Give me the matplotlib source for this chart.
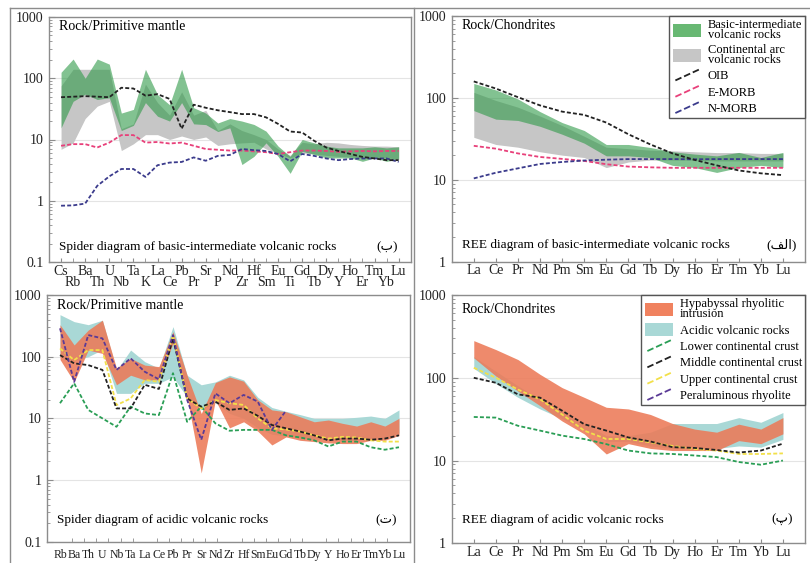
import numpy as np
import matplotlib
matplotlib.use('Agg')
import matplotlib.pyplot as plt
from matplotlib.lines import Line2D
from matplotlib.patches import Patch
from matplotlib.legend_handler import HandlerBase
from matplotlib.ticker import LogLocator, NullFormatter, FixedLocator

plt.rcParams['font.family'] = ['Liberation Serif', 'DejaVu Sans']

W, H = 810, 563

# ---- data: basic-intermediate, primitive mantle normalised
PM_ELEM = ['Cs', 'Rb', 'Ba', 'Th', 'U', 'Nb', 'Ta', 'K', 'La', 'Ce', 'Pb', 'Pr', 'Sr', 'P', 'Nd',
           'Zr', 'Hf', 'Sm', 'Eu', 'Ti', 'Gd', 'Tb', 'Dy', 'Y', 'Ho', 'Er', 'Tm', 'Yb', 'Lu']
basic_pm_hi = [125, 206, 100, 206, 170, 27, 31, 140, 54, 37, 140, 33, 27, 18.6, 22,
               20, 17.6, 13.7, 7.8, 5.3, 10, 8.8, 7.8, 7.3, 7.3, 7.3, 7.6, 7.3, 7.6]
basic_pm_lo = [15.5, 42, 55, 45, 48, 14, 17, 40, 24, 20, 40, 18, 17.5, 13.5, 15.5,
               3.9, 5.3, 8.8, 5.3, 2.8, 6.4, 5.7, 5.0, 5.0, 5.0, 4.4, 5.0, 4.4, 4.8]
arc_pm_hi = [75, 140, 140, 140, 140, 15, 18, 80, 40, 25, 60, 25, 30, 14, 18,
             14, 12, 10, 7, 5.5, 9, 8.5, 9, 8.8, 8.3, 8.0, 7.8, 7.8, 7.6]
arc_pm_lo = [6.9, 8.8, 22, 35, 42, 6.6, 8.5, 12, 12, 10, 11.4, 10, 11, 8, 8.5,
             8.8, 9, 7, 6, 5, 6, 5.8, 5.5, 5.3, 5.2, 5.0, 5.0, 5.0, 4.8]
oib_pm = [49, 50, 51, 50, 49, 70, 68, 52, 55, 46, 15, 37, 33, 30, 28,
          26, 26, 23, 18, 13.5, 13, 9.5, 7.4, 6.5, 5.8, 5.2, 4.9, 4.6, 4.6]
emorb_pm = [7.9, 8.4, 8.4, 7.4, 8.9, 11.8, 11.8, 8.9, 9.1, 8.6, 8.9, 7.9, 7.0, 6.8, 6.6,
            6.6, 6.4, 6.2, 5.8, 6.2, 6.6, 6.6, 6.5, 6.3, 6.4, 6.5, 6.4, 6.5, 6.5]
nmorb_pm = [0.83, 0.84, 0.9, 1.75, 2.5, 3.3, 3.3, 2.45, 3.8, 4.2, 4.3, 5.1, 4.5, 5.4, 5.6,
            7.0, 6.7, 6.5, 5.8, 4.4, 5.8, 5.4, 4.9, 4.6, 4.8, 4.9, 4.9, 4.9, 4.3]

# ---- data: REE, chondrite normalised
REE = ['La', 'Ce', 'Pr', 'Nd', 'Pm', 'Sm', 'Eu', 'Gd', 'Tb', 'Dy', 'Ho', 'Er', 'Tm', 'Yb', 'Lu']
basic_ree_hi = [150, 125, 97, 68, 50, 40, 27, 27, 24.8, 22, 20.6, 19.6, 21.6, 18.7, 21.6]
basic_ree_lo = [70, 55, 53, 45, 36, 28, 19.6, 19.6, 18.7, 15, 14.1, 12.3, 14.1, 15, 14.1]
arc_ree_hi = [117, 93, 77, 60, 46, 34, 25, 24, 23, 22.6, 22, 21.5, 21.5, 21, 21]
arc_ree_lo = [33, 27, 25, 22, 20, 18.7, 14.1, 16.5, 17.4, 17.4, 17.4, 17.0, 17.0, 17.0, 17.0]
oib_ree = [159, 130, 102, 81, 68, 62, 50, 36, 27, 21, 17.5, 15, 13, 12, 11.4]
emorb_ree = [26, 24, 21, 19, 18, 17, 15.5, 14.5, 14.2, 14, 14, 14, 14, 14, 14]
nmorb_ree = [10.4, 12.2, 13.8, 15.6, 16.5, 17.2, 17.6, 17.9, 17.9, 17.9, 17.8, 17.9, 17.9, 17.9, 17.9]

# ---- data: acidic rocks, primitive mantle normalised
AC_ELEM = ['Rb', 'Ba', 'Th', 'U', 'Nb', 'Ta', 'La', 'Ce', 'Pb', 'Pr', 'Sr', 'Nd', 'Zr',
           'Hf', 'Sm', 'Eu', 'Gd', 'Tb', 'Dy', 'Y', 'Ho', 'Er', 'Tm', 'Yb', 'Lu']
hyp_pm_hi = [330, 155, 270, 390, 65, 94, 73, 69, 254, 50, 12, 38, 47,
             40, 20, 13.7, 12.8, 10.6, 8.8, 9.4, 8.3, 7.5, 8.8, 7.5, 10]
hyp_pm_lo = [90, 39, 128, 113, 35, 50, 42, 42, 165, 22, 1.3, 19.8, 7.0,
             8.8, 6.2, 3.7, 5.0, 4.4, 4.2, 4.0, 3.9, 3.9, 4.4, 4.4, 5.3]
acid_pm_hi = [480, 370, 330, 390, 60, 128, 83, 65, 307, 50, 35, 39, 50,
              42, 22, 15, 13, 11.5, 10, 10, 10, 10.4, 10.9, 10, 13.7]
acid_pm_lo = [100, 85, 100, 130, 25.4, 25.4, 37, 37, 47, 22, 13.7, 18, 12,
              10, 7, 5.5, 5.2, 4.8, 4.6, 4.5, 4.4, 4.4, 4.8, 4.8, 5.8]
lcc_pm = [17.6, 37, 13.7, 10, 7.3, 15.5, 12, 11.3, 54, 8.8, 15.5, 8.3, 6.3,
          6.5, 6.5, 6.5, 5.3, 4.9, 4.4, 3.5, 4.2, 4.2, 3.4, 3.1, 3.4]
mcc_pm = [106, 78, 73, 61, 14.5, 14.5, 35, 30, 198, 21, 15.5, 18.6, 13.7,
          14.5, 11, 7.8, 6.9, 6.1, 5.3, 4.4, 4.7, 4.7, 4.5, 4.7, 5.3]
ucc_pm = [136, 88, 128, 128, 16.4, 21, 42, 39, 224, 21, 14.5, 19.8, 17.6,
          16.5, 10, 6.9, 6.6, 6.1, 5.3, 4.7, 5.0, 4.9, 4.4, 4.2, 4.2]
perrhy_pm = [288, 39, 224, 198, 61, 94, 57, 43, 224, 20, 4.5, 25.4, 17.6,
             24, 18.7, 6.5, 13.3] + [np.nan] * 8

# ---- data: acidic rocks, REE
hyp_ree_hi = [281, 219, 166, 110, 76, 58, 44, 42, 36, 28, 24, 22, 27.5, 24, 33]
hyp_ree_lo = [174, 105, 69, 46, 30, 21, 12, 16, 14, 13.2, 13.2, 13.2, 17.4, 16, 21]
acid_ree_hi = [180, 120, 80, 55, 40, 28, 20, 20, 22, 28, 28, 28, 33, 29, 38]
acid_ree_lo = [130, 85, 58, 42, 32, 24, 17, 17, 15, 14, 14, 14, 15, 14.5, 18]
lcc_ree = [33.6, 33, 26.3, 23, 20, 18.2, 15.8, 13.2, 12.2, 12, 11.5, 11, 9.6, 8.9, 10]
mcc_ree = [100, 87, 63, 57.5, 40, 27.5, 23, 19, 17, 14.5, 14.2, 13.4, 12.5, 13.2, 16]
ucc_ree = [132, 100, 72, 55, 36, 23, 18.2, 18.2, 16.6, 15, 13.8, 13.2, 12, 12, 12.2]

# colours
C_GREEN, C_GRAY = '#2f9a48', '#c6c6c6'
C_ORANGE, C_TEAL = '#ec7a58', '#a9d8d6'
C_OIB, C_EMORB, C_NMORB = '#222222', '#e8407a', '#3b3b8c'
C_LCC, C_MCC, C_UCC, C_PER = '#2a9e55', '#222222', '#f2e04a', '#5a3a96'
DASH = (0, (2.2, 1.2))
SPINE = '#8c8c8c'


class HandlerDiag(HandlerBase):
    # dashed line drawn diagonally in the legend
    def create_artists(self, legend, orig, xd, yd, width, height, fontsize, trans):
        line = Line2D([-xd + 0.1 * width, -xd + width], [-yd + 0.1 * height, -yd + height],
                      color=orig.get_color(), ls=orig.get_linestyle(), lw=orig.get_linewidth())
        line.set_transform(trans)
        return [line]


def ax_at(fig, l, t, r, b):
    return fig.add_axes([l / W, 1 - b / H, (r - l) / W, (b - t) / H])


def style(ax, ylim, xlim):
    ax.set_yscale('log')
    ax.set_ylim(*ylim)
    ax.set_xlim(*xlim)
    yt = [10.0 ** k for k in range(int(np.log10(ylim[0])), int(np.log10(ylim[1])) + 1)]
    ax.set_yticks(yt)
    ax.set_yticklabels(['%g' % v for v in yt])
    ax.yaxis.set_minor_locator(LogLocator(base=10, subs=np.arange(2, 10)))
    ax.yaxis.set_minor_formatter(NullFormatter())
    ax.grid(axis='y', which='major', color='#e4e4e4', lw=0.8)
    ax.set_axisbelow(True)
    for s in ax.spines.values():
        s.set_color(SPINE)
        s.set_linewidth(1.0)
    ax.tick_params(axis='both', which='both', direction='in', color=SPINE, labelsize=10, labelcolor='#222222')
    ax.tick_params(axis='y', which='major', length=4, pad=4)
    ax.tick_params(axis='y', which='minor', length=2.5)
    ax.tick_params(axis='x', which='major', length=3, pad=2)


def dline(ax, x, y, c):
    ax.plot(x, y, color=c, ls=DASH, lw=1.3)


def legend(ax, handles, labels):
    leg = ax.legend(handles, labels, loc='upper right', borderaxespad=0, fontsize=9,
                    handlelength=2.3, handleheight=1.25, handletextpad=0.5, labelspacing=0.2,
                    borderpad=0.25, fancybox=False, edgecolor='#555555', framealpha=1,
                    handler_map={Line2D: HandlerDiag()})
    leg.get_frame().set_linewidth(1.0)
    for t in leg.get_texts():
        t.set_linespacing(0.8)


def panel_text(ax, top, bottom, tag, ytop, ybot):
    ax.text(0.028, ytop, top, transform=ax.transAxes, fontsize=10, va='center', ha='left')
    ax.text(0.028, ybot, bottom, transform=ax.transAxes, fontsize=9.5, va='center', ha='left')
    ax.text(0.935, ybot, tag, transform=ax.transAxes, fontsize=9.5, va='center', ha='center')


fig = plt.figure(figsize=(W / 100, H / 100), dpi=100)

# panel frames
for xs, ys in [([10, 810], [7.5, 7.5]), ([10, 10], [7.5, 563]), ([414, 414], [7.5, 563])]:
    fig.add_artist(Line2D([x / W for x in xs], [1 - y / H for y in ys], color='#8c8c8c', lw=1.0))

# top left: spider diagram, basic-intermediate
ax = ax_at(fig, 49, 17, 410.7, 262)
x = np.arange(len(PM_ELEM))
ax.fill_between(x, arc_pm_lo, arc_pm_hi, color=C_GRAY, lw=0)
ax.fill_between(x, basic_pm_lo, basic_pm_hi, color=C_GREEN, alpha=0.6, lw=0)
dline(ax, x, emorb_pm, C_EMORB)
dline(ax, x, nmorb_pm, C_NMORB)
dline(ax, x, oib_pm, C_OIB)
style(ax, (0.1, 1000), (-1, 29))
# labels in two staggered rows
ax.set_xticks(x[::2], PM_ELEM[::2])
ax.set_xticks(x[1::2], PM_ELEM[1::2], minor=True)
ax.tick_params(axis='x', which='minor', length=3, pad=9.8)
panel_text(ax, 'Rock/Primitive mantle', 'Spider diagram of basic-intermediate volcanic rocks',
           '(ب)', 0.96, 0.062)

# top right: REE, basic-intermediate
ax = ax_at(fig, 451.7, 16, 805, 261.7)
x = np.arange(len(REE))
ax.fill_between(x, arc_ree_lo, arc_ree_hi, color=C_GRAY, lw=0)
ax.fill_between(x, basic_ree_lo, basic_ree_hi, color=C_GREEN, alpha=0.6, lw=0)
dline(ax, x, emorb_ree, C_EMORB)
dline(ax, x, nmorb_ree, C_NMORB)
dline(ax, x, oib_ree, C_OIB)
style(ax, (1, 1000), (-1, 15))
ax.set_xticks(x)
ax.set_xticklabels(REE)
legend(ax,
       [Patch(facecolor='#68b873', edgecolor='none'), Patch(facecolor=C_GRAY, edgecolor='none'),
        Line2D([], [], color=C_OIB, ls=DASH, lw=1.3), Line2D([], [], color=C_EMORB, ls=DASH, lw=1.3),
        Line2D([], [], color=C_NMORB, ls=DASH, lw=1.3)],
       ['Basic-intermediate\nvolcanic rocks', 'Continental arc\nvolcanic rocks', 'OIB', 'E-MORB', 'N-MORB'])
panel_text(ax, 'Rock/Chondrites', 'REE diagram of basic-intermediate volcanic rocks',
           '(ﻒﻟﺍ)', 0.96, 0.068)

# bottom left: spider diagram, acidic
ax = ax_at(fig, 47.3, 295, 410, 541.7)
x = np.arange(len(AC_ELEM))
ax.fill_between(x, acid_pm_lo, acid_pm_hi, color=C_TEAL, lw=0)
ax.fill_between(x, hyp_pm_lo, hyp_pm_hi, color=C_ORANGE, alpha=0.88, lw=0)
dline(ax, x, lcc_pm, C_LCC)
dline(ax, x, ucc_pm, C_UCC)
dline(ax, x, mcc_pm, C_MCC)
dline(ax, x, perrhy_pm, C_PER)
style(ax, (0.1, 1000), (-0.9, 24.78))
ax.set_xticks(x)
ax.set_xticklabels(AC_ELEM, fontsize=8.5)
ax.tick_params(axis='x', which='major', length=0, pad=5)
ax.xaxis.set_minor_locator(FixedLocator(np.linspace(0, 24, 29)))
ax.tick_params(axis='x', which='minor', length=3)
panel_text(ax, 'Rock/Primitive mantle', 'Spider diagram of acidic volcanic rocks',
           '(ت)', 0.959, 0.088)

# bottom right: REE, acidic
ax = ax_at(fig, 451.7, 295, 805, 543.3)
x = np.arange(len(REE))
ax.fill_between(x, acid_ree_lo, acid_ree_hi, color=C_TEAL, lw=0)
ax.fill_between(x, hyp_ree_lo, hyp_ree_hi, color=C_ORANGE, alpha=0.88, lw=0)
dline(ax, x, lcc_ree, C_LCC)
dline(ax, x, ucc_ree, C_UCC)
dline(ax, x, mcc_ree, C_MCC)
style(ax, (1, 1000), (-1, 15))
ax.set_xticks(x)
ax.set_xticklabels(REE)
legend(ax,
       [Patch(facecolor='#f0825f', edgecolor='none'), Patch(facecolor=C_TEAL, edgecolor='none'),
        Line2D([], [], color=C_LCC, ls=DASH, lw=1.3), Line2D([], [], color=C_MCC, ls=DASH, lw=1.3),
        Line2D([], [], color=C_UCC, ls=DASH, lw=1.3), Line2D([], [], color=C_PER, ls=DASH, lw=1.3)],
       ['Hypabyssal rhyolitic\nintrusion', 'Acidic volcanic rocks', 'Lower continental crust',
        'Middle continental crust', 'Upper continental crust', 'Peraluminous rhyolite'])
panel_text(ax, 'Rock/Chondrites', 'REE diagram of acidic volcanic rocks',
           '(پ)', 0.942, 0.094)

fig.savefig('out.png', dpi=100)
